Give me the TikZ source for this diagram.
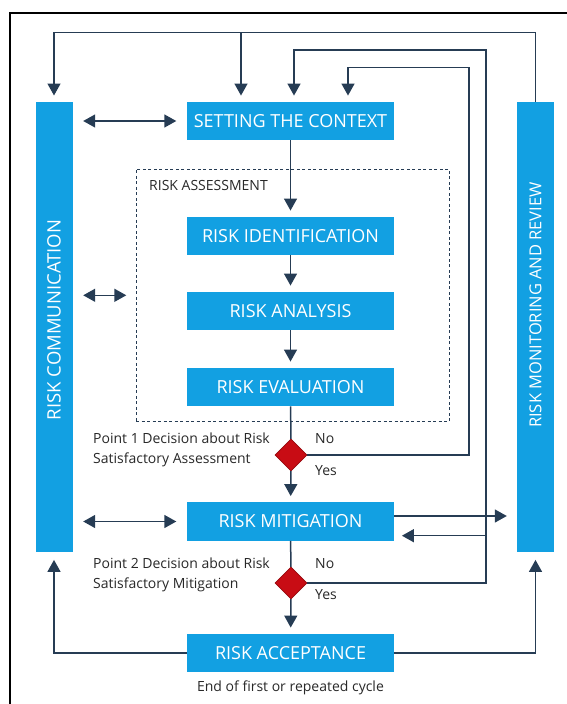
\documentclass[tikz,border=0pt]{standalone}
\usepackage{fontspec}
\setmainfont{Open Sans}
\usetikzlibrary{arrows.meta,shapes.geometric,positioning}

\definecolor{riskblue}{RGB}{18,160,226}
\definecolor{flowline}{RGB}{38,60,84}
\definecolor{decisionred}{RGB}{200,12,20}
\definecolor{labelgray}{RGB}{40,40,40}

\def\boxWidth{207}
\def\boxHeight{38.5}
\def\barWidth{37}
\def\barHeight{450}
\def\midX{290.5}

\tikzset{
    stagebox/.style = {fill=riskblue, text=white, inner sep=0,
        minimum width=\boxWidth, minimum height=\boxHeight,
        font=\fontsize{18}{21}\selectfont},
    sidebar/.style = {fill=riskblue, inner sep=0,
        minimum width=\barWidth, minimum height=\barHeight},
    barlabel/.style = {text=white, rotate=90, inner sep=0},
    decision/.style = {diamond, fill=decisionred, draw=decisionred!75!black,
        line width=0.6, inner sep=0, minimum width=32, minimum height=32},
    notetext/.style = {text=labelgray, inner sep=0,
        font=\fontsize{14}{20}\selectfont},
    link/.style = {draw=flowline, line width=1.5},
    flow/.style = {link, -{Triangle[length=12pt,width=13pt]}, shorten >=6},
    twoway/.style = {link, {Triangle[length=12pt,width=13pt]}-{Triangle[length=12pt,width=13pt]},
        shorten <=10.5, shorten >=10.5}
}

\begin{document}
\begin{tikzpicture}[x=1pt, y=-1pt]
    \useasboundingbox (0,0) rectangle (567,704);
    \draw [line width=2] (567,13.3) -- (10,13.3) -- (10,704);

    %% side bars
    \node [sidebar] (comm) at (54,326.7) {};
    \node [barlabel, font=\fontsize{18.5}{21}\selectfont] (commlabel) at (54,320) {RISK COMMUNICATION};
    \node [sidebar] (monitor) at (535.5,326.7) {};
    \node [barlabel, font=\fontsize{16.5}{20}\selectfont] (monitorlabel) at (535.5,305) {RISK MONITORING AND REVIEW};

    %% stages
    \node [stagebox] (context)    at (\midX,121)   {SETTING THE CONTEXT};
    \node [draw=flowline, dashed, dash pattern=on 3pt off 2.5pt, line width=0.8,
        minimum width=313, minimum height=252.7, inner sep=0] (assess) at (292.5,295.3) {};
    \node [notetext, anchor=base west] (assesslabel) at (149,190) {RISK ASSESSMENT};
    \node [stagebox] (ident)      at (\midX,236)   {RISK IDENTIFICATION};
    \node [stagebox] (analysis)   at (\midX,311)   {RISK ANALYSIS};
    \node [stagebox] (evaluation) at (\midX,387)   {RISK EVALUATION};
    \node [decision] (check1)     at (291,455)     {};
    \node [stagebox] (mitigation) at (\midX,521.5) {RISK MITIGATION};
    \node [decision] (check2)     at (291,583)     {};
    \node [stagebox] (acceptance) at (\midX,653)   {RISK ACCEPTANCE};

    %% decision texts
    \node [notetext, anchor=north west, align=left] (point1) at (93,432.3)
        {Point 1 Decision about Risk\\Satisfactory Assessment};
    \node [notetext, anchor=base west] (no1)  at (315,443) {No};
    \node [notetext, anchor=base west] (yes1) at (315,475) {Yes};
    \node [notetext, anchor=north west, align=left] (point2) at (93,557.3)
        {Point 2 Decision about Risk\\Satisfactory Mitigation};
    \node [notetext, anchor=base west] (no2)  at (315,568) {No};
    \node [notetext, anchor=base west] (yes2) at (315,599) {Yes};
    \node [notetext, anchor=base] (cycle) at (\midX,691) {End of first or repeated cycle};

    %% main chain
    \draw [flow] (context) -- (ident);
    \draw [flow] (ident) -- (analysis);
    \draw [flow] (analysis) -- (evaluation);
    \draw [link] (evaluation) -- (check1);
    \draw [flow] (check1) -- (mitigation);
    \draw [link] (mitigation) -- (check2);
    \draw [flow] (check2) -- (acceptance);

    %% loops back to the context
    \coordinate (loopA) at (0,32.5);
    \coordinate (loopB) at (486,50);
    \coordinate (loopC) at (469,67.3);
    \coordinate (inA) at ([xshift=-49.5]context.north);
    \coordinate (inB) at ([xshift=3.5]context.north);
    \coordinate (inC) at ([xshift=57.5]context.north);
    \draw [flow] (monitor.north) |- (comm.north |- loopA) -- (comm.north);
    \draw [flow] (inA |- loopA) -- (inA);
    \draw [flow] (check2.east) -| (loopB) -| (inB);
    \draw [flow] (check1.east) -| (loopC) -| (inC);

    %% mitigation and monitoring
    \coordinate (outM) at ([yshift=5.5]mitigation.east);
    \coordinate (backM) at ([yshift=-14.2]mitigation.east);
    \draw [flow, shorten >=10] (outM) -- (outM -| monitor.west);
    \draw [flow, shorten >=7.7] (loopB |- backM) -- (backM);

    %% communication
    \draw [twoway] (comm.east |- context) -- (context.west);
    \draw [twoway, shorten >=9.3] (comm.east |- assess) -- (assess.west);
    \draw [twoway] (comm.east |- mitigation) -- (mitigation.west);

    %% back from acceptance
    \draw [flow, shorten >=8] (acceptance.west) -| (comm.south);
    \draw [flow, shorten >=8] (acceptance.east) -| (monitor.south);
\end{tikzpicture}
\end{document}
